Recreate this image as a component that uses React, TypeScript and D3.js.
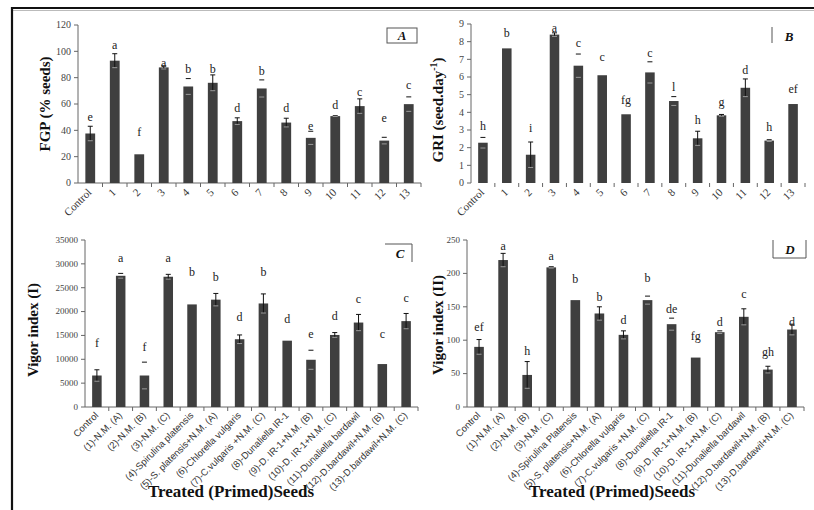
import React from "react";
import * as d3 from "d3";

const abCategories = ["Control", "1", "2", "3", "4", "5", "6", "7", "8", "9", "10", "11", "12", "13"];
const cCategories = [
  "Control", "(1)-N.M. (A)", "(2)-N.M. (B)", "(3)-N.M. (C)", "(4)-Spirulina platensis",
  "(5)-S. platensis+N.M. (A)", "(6)-Chlorella vulgaris", "(7)-C.vulgaris +N.M. (C)",
  "(8)-Dunaliella IR-1", "(9)-D. IR-1+N.M. (B)", "(10)-D. IR-1+N.M. (C)",
  "(11)-Dunaliella bardawil", "(12)-D.bardawil+N.M. (B)", "(13)-D.bardawil+N.M. (C)",
];
const dCategories = [
  "Control", "(1)-N.M. (A)", "(2)-N.M. (B)", "(3)-N.M. (C)", "(4)-Spirulina Platensis",
  "(5)-S. platensis+N.M. (A)", "(6)-Chlorella vulgaris", "(7)-C.vulgaris +N.M. (C)",
  "(8)-Dunaliella IR-1", "(9)-D. IR-1+N.M. (B)", "(10)-D. IR-1+N.M. (C)",
  "(11)-Dunaliella bardawil", "(12)-D.bardawil+N.M. (B)", "(13)-D.bardawil+N.M. (C)",
];

// Panel A: FGP (% seeds)
const fgpValues = [37.6, 92.9, 21.8, 87.8, 73.3, 76.1, 47, 71.8, 45.9, 34.3, 50.8, 58.4, 32.2, 59.9];
const fgpErrors = [5.5, 5.3, 0, 1.2, 6, 6, 2.5, 6.5, 3.3, 5, 0.3, 5.5, 2.5, 5.5];
const fgpWhisker = [1, 1, 0, 1, 0, 1, 1, 0, 1, 0, 0, 1, 0, 0];
const fgpLetters = ["e", "a", "f", "a", "b", "b", "d", "b", "d", "e", "d", "c", "e", "c"];
const fgpLetterY = [50, 105, 38.6, 91, 86.5, 86.5, 56.6, 85, 56.6, 43, 59, 69, 49, 74];

// Panel B: GRI (seed.day-1)
const griValues = [2.28, 7.62, 1.6, 8.4, 6.64, 6.1, 3.89, 6.26, 4.64, 2.53, 3.83, 5.39, 2.4, 4.47];
const griErrors = [0.3, 0, 0.72, 0.1, 0.66, 0, 0, 0.6, 0.25, 0.4, 0.05, 0.5, 0.05, 0];
const griWhisker = [0, 0, 1, 1, 0, 0, 0, 0, 0, 1, 1, 1, 0, 0];
const griLetters = ["h", "b", "i", "a", "c", "c", "fg", "c", "l", "h", "g", "d", "h", "ef"];
const griLetterY = [3.19, 8.47, 3.1, 8.75, 7.9, 7.1, 4.7, 7.34, 5.45, 3.57, 4.6, 6.4, 3.15, 5.32];

// Panel C: Vigor index (I)
const vi1Values = [6600, 27500, 6600, 27300, 21500, 22500, 14200, 21700, 13900, 9900, 15100, 17700, 9000, 18000];
const vi1Errors = [1200, 500, 2800, 500, 0, 1300, 900, 2000, 0, 2000, 500, 1700, 0, 1600];
const vi1Whisker = [1, 0, 0, 1, 0, 1, 1, 1, 0, 0, 1, 1, 0, 1];
const vi1Letters = ["f", "a", "f", "a", "b", "b", "d", "b", "d", "e", "d", "c", "c", "c"];
const vi1LetterY = [13400, 31200, 12600, 31200, 28300, 27200, 18900, 28300, 18400, 15300, 19100, 22600, 15300, 22800];

// Panel D: Vigor index (II)
const vi2Values = [90, 220, 48, 209, 160, 140, 108, 160, 124, 74, 112, 135, 56, 116];
const vi2Errors = [11, 10, 20, 1, 0, 10, 6, 6, 9, 0, 2, 12, 5, 8];
const vi2Whisker = [1, 1, 1, 0, 0, 1, 1, 0, 0, 0, 0, 1, 1, 1];
const vi2Letters = ["ef", "a", "h", "a", "b", "b", "d", "b", "de", "fg", "d", "c", "gh", "d"];
const vi2LetterY = [120, 241, 84, 226, 192, 165, 130, 193, 147, 106, 127, 169, 82, 127];

const SERIF = "'Liberation Serif', 'Times New Roman', Times, serif";
const SANS = "'Liberation Sans', Arial, sans-serif";
const BAR = "#3f3f3f";

type PanelProps = {
  cats: string[];
  values: number[];
  errors: number[];
  whisker: number[];
  letters: string[];
  letterY: number[];
  max: number;
  step: number;
  x0: number;
  x1: number;
  yTop: number;
  yBottom: number;
  catFont: string;
  catSize: number;
  catDy: number;
  showBaseline: boolean;
  tickSize: number;
};

function Panel(p: PanelProps) {
  const x = d3.scaleBand<string>().domain(p.cats).range([p.x0, p.x1]).paddingInner(0.6).paddingOuter(0.3);
  const y = d3.scaleLinear().domain([0, p.max]).range([p.yBottom, p.yTop]);
  const ticks = d3.range(0, p.max + p.step / 2, p.step);
  const stepW = x.step();
  const bw = x.bandwidth();
  return (
    <g>
      <line x1={p.x0} x2={p.x0} y1={y(0)} y2={y(p.max)} stroke="#666" strokeWidth={1} />
      {ticks.map((t) => (
        <g key={"yt" + t}>
          <line x1={p.x0 - 4} x2={p.x0} y1={y(t)} y2={y(t)} stroke="#666" />
          <text x={p.x0 - 7} y={y(t)} dy="0.32em" textAnchor="end" fontFamily={SERIF} fontSize={p.tickSize} fill="#444">
            {t}
          </text>
        </g>
      ))}
      {p.showBaseline && (
        <line x1={p.x0} x2={p.x1} y1={y(0)} y2={y(0)} stroke="#666" strokeWidth={1} />
      )}
      {p.cats.map((c, i) => (
        <line key={"xt" + i} x1={p.x0 + stepW * (i + 1)} x2={p.x0 + stepW * (i + 1)} y1={y(0)} y2={y(0) + 4} stroke="#666" />
      ))}
      {p.cats.map((c, i) => (
        <rect key={"b" + i} x={x(c)} y={y(p.values[i])} width={bw} height={y(0) - y(p.values[i])} fill={BAR} />
      ))}
      {p.cats.map((c, i) => {
        const e = p.errors[i];
        if (!e) return null;
        const cx = (x(c) as number) + bw / 2;
        const yt = y(p.values[i] + e);
        const yb = y(p.values[i] - e);
        return (
          <g key={"e" + i}>
            {p.whisker[i] ? <line x1={cx} x2={cx} y1={yt} y2={yb} stroke="#111" strokeWidth={1} /> : null}
            <line x1={cx - 2.5} x2={cx + 2.5} y1={yt} y2={yt} stroke="#111" strokeWidth={1} />
            <line x1={cx - 2.5} x2={cx + 2.5} y1={yb} y2={yb} stroke="#999" strokeWidth={1} />
          </g>
        );
      })}
      {p.cats.map((c, i) => (
        <text key={"l" + i} x={(x(c) as number) + bw / 2} y={y(p.letterY[i])} dy="0.32em" textAnchor="middle" fontFamily={SERIF} fontSize={12} fill="#222">
          {p.letters[i]}
        </text>
      ))}
      {p.cats.map((c, i) => {
        const cx = (x(c) as number) + bw / 2 + 2;
        const ty = y(0) + p.catDy;
        return (
          <text key={"c" + i} transform={`translate(${cx},${ty}) rotate(-45)`} textAnchor="end" fontFamily={p.catFont} fontSize={p.catSize} fill="#333">
            {c}
          </text>
        );
      })}
    </g>
  );
}

const yLabelStyle = { fontFamily: SERIF, fontWeight: 700 as const, fontSize: 15, fill: "#111" };

export default function App() {
  return (
    <svg width={814} height={510} style={{ position: "absolute", left: 0, top: 0, background: "#fff" }}>
      <rect x={0} y={0} width={814} height={510} fill="#fff" />
      <line x1={12} x2={814} y1={8} y2={8} stroke="#111" strokeWidth={2} />
      <line x1={12} x2={814} y1={10.5} y2={10.5} stroke="#bbb" strokeWidth={1} />
      <line x1={12} x2={12} y1={7} y2={510} stroke="#111" strokeWidth={2.2} />

      <Panel cats={abCategories} values={fgpValues} errors={fgpErrors} whisker={fgpWhisker} letters={fgpLetters} letterY={fgpLetterY}
        max={120} step={20} x0={78} x1={421} yTop={25} yBottom={183} catFont={SERIF} catSize={11} catDy={10} showBaseline={true} tickSize={10} />
      <Panel cats={abCategories} values={griValues} errors={griErrors} whisker={griWhisker} letters={griLetters} letterY={griLetterY}
        max={9} step={1} x0={471} x1={805} yTop={24} yBottom={183} catFont={SERIF} catSize={11} catDy={10} showBaseline={false} tickSize={10} />
      <Panel cats={cCategories} values={vi1Values} errors={vi1Errors} whisker={vi1Whisker} letters={vi1Letters} letterY={vi1LetterY}
        max={35000} step={5000} x0={85} x1={418} yTop={240} yBottom={407} catFont={SANS} catSize={9.5} catDy={9} showBaseline={true} tickSize={9} />
      <Panel cats={dCategories} values={vi2Values} errors={vi2Errors} whisker={vi2Whisker} letters={vi2Letters} letterY={vi2LetterY}
        max={250} step={50} x0={467} x1={804} yTop={240} yBottom={407} catFont={SANS} catSize={9.5} catDy={9} showBaseline={true} tickSize={9} />

      <text transform="translate(50,104) rotate(-90)" textAnchor="middle" {...yLabelStyle}>FGP (% seeds)</text>
      <text transform="translate(443,110) rotate(-90)" textAnchor="middle" {...yLabelStyle}>
        GRI (seed.day<tspan fontSize={10} dy={-6}>-1</tspan><tspan dy={6}>)</tspan>
      </text>
      <text transform="translate(38,330) rotate(-90)" textAnchor="middle" {...yLabelStyle}>Vigor index (I)</text>
      <text transform="translate(443,325) rotate(-90)" textAnchor="middle" {...yLabelStyle}>Vigor index (II)</text>

      <text x={231} y={497} textAnchor="middle" fontFamily={SERIF} fontWeight={700} fontSize={17} fill="#111">Treated (Primed)Seeds</text>
      <text x={612} y={497} textAnchor="middle" fontFamily={SERIF} fontWeight={700} fontSize={17} fill="#111">Treated (Primed)Seeds</text>

      <rect x={387} y={28} width={30} height={15} fill="none" stroke="#555" strokeWidth={1} />
      <text x={402} y={40} textAnchor="middle" fontFamily={SERIF} fontStyle="italic" fontWeight={700} fontSize={13} fill="#111">A</text>

      <line x1={772} x2={772} y1={27} y2={43} stroke="#555" strokeWidth={1} />
      <text x={789} y={41} textAnchor="middle" fontFamily={SERIF} fontStyle="italic" fontWeight={700} fontSize={13} fill="#111">B</text>

      <polyline points="385,244 412,244 412,262" fill="none" stroke="#555" strokeWidth={1} />
      <text x={400} y={258} textAnchor="middle" fontFamily={SERIF} fontStyle="italic" fontWeight={700} fontSize={13} fill="#111">C</text>

      <polyline points="773,240 773,258 806,258 806,240" fill="none" stroke="#555" strokeWidth={1} />
      <text x={790} y={254} textAnchor="middle" fontFamily={SERIF} fontStyle="italic" fontWeight={700} fontSize={13} fill="#111">D</text>
    </svg>
  );
}
